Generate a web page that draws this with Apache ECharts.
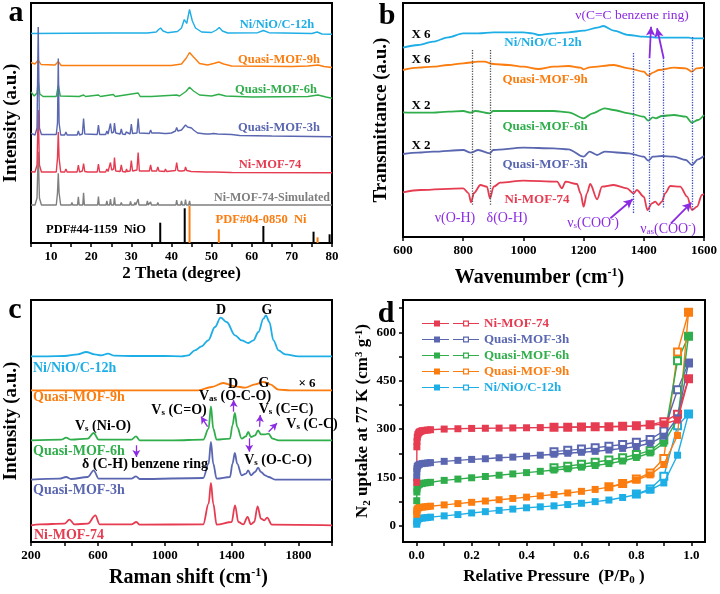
<!DOCTYPE html>
<html><head><meta charset="utf-8">
<script src="https://cdn.jsdelivr.net/npm/echarts@6/dist/echarts.min.js"></script>
<style>html,body{margin:0;padding:0;background:#fff}#c{width:720px;height:594px}</style>
</head><body><div id="c"></div>
<script>
// ---------- Panel a : XRD (2θ, relative intensity with stack offsets) ----------
const xrd_12h = [[5,209.5],[15,209.8],[25,210],[34,210],[36.2,211],[36.8,213.5],[37.3,215],[37.9,212],[39,210.3],[41.5,211.5],[42.5,215],[43.2,223.5],[43.8,219.5],[44.5,233.5],[45.2,222],[46,215],[47.5,211],[50,210.5],[51.2,213],[51.9,215.5],[52.7,212],[54,210],[61.5,210.3],[62.9,212.5],[64.3,210.3],[75,209.5],[76.3,211],[77.5,209],[80,208.7]];
const xrd_9h = [[5,180.5],[6,179],[6.8,183],[7.5,178.5],[11,178],[11.8,181.5],[12.5,177.5],[20,177.5],[40,177.5],[42.5,179],[43.7,185],[44.5,190.5],[45.5,186],[47,179.5],[49,178],[50.5,179.5],[51.8,181],[53,179],[55,177],[70,176.5],[74,177],[76.5,178],[78,176.5],[80,175.5]];
const xrd_6h = [[5,151],[5.8,147],[6.5,150],[6.8,162.5],[7.2,149],[8,146.5],[11.3,146.5],[11.8,158],[12.3,147],[17,146.5],[18.1,148],[18.6,146.5],[21.8,148],[22.3,146.5],[25.5,148.5],[26,146.5],[31.7,150],[32.2,146.5],[35,146.5],[41.3,148],[42,147],[43.6,151.5],[44.5,155.7],[45.5,152],[47,148],[50,147],[51.8,148.8],[53.5,147],[60,146],[74,146.5],[76.5,148],[78.5,146],[80,144.7]];
const xrd_3h = [[5,109.7],[6.0,108],[6.5,115],[6.8,216],[7.1,115],[7.6,108.5],[11.3,108.5],[11.6,120],[11.8,184.5],[12.0,120],[12.4,108],[13.4,108],[13.7,111],[14,108],[16.5,108],[16.8,112],[17.1,108],[17.8,109],[18.1,124.5],[18.4,109],[21.5,108.5],[21.8,118],[22.1,108.5],[23.6,108.5],[23.9,112],[24.2,109],[24.6,110],[24.8,119.5],[25.1,110],[25.6,111],[25.8,120],[26.1,110],[27.2,109],[27.5,114],[27.8,109],[28.5,108.5],[28.7,111],[28.9,109],[29.7,109],[30.0,119],[30.3,109.5],[31.4,110],[31.7,124.5],[32,110],[34.5,109.5],[34.8,113],[35.1,110],[36.3,110],[36.6,112],[36.9,110],[38.3,109.5],[38.5,110.5],[38.8,109.5],[40,110],[41.0,112],[41.3,115.5],[41.6,112],[42.5,113],[43.5,118],[44.0,116],[44.3,117.5],[45.0,115],[45.5,113],[46.5,110],[48.5,109],[48.8,110.5],[49.5,109],[50.5,109.5],[50.8,111],[51.5,109],[55,108.5],[57,107.5],[65,107],[80,106.3]];
const xrd_mof74 = [[5,71.3],[6.0,71],[6.5,78],[6.8,133],[7.1,78],[7.6,71],[11.3,71],[11.6,85],[11.8,111],[12.0,85],[12.4,71],[13.4,71],[13.7,74],[14,71],[16.5,71],[16.8,78],[17.1,71],[17.8,72],[18.1,79.5],[18.4,71.5],[19.1,71],[19.3,73],[19.5,71],[21.5,71],[21.8,79],[22.1,71],[23.6,71],[23.9,74],[24.2,71.5],[24.6,73],[24.8,80.5],[25.1,73],[25.6,74],[25.8,85.5],[26.1,72],[27.2,71.5],[27.5,78],[27.8,71.5],[28.6,71],[28.8,74],[29,71.5],[29.7,72],[30,82.5],[30.3,72],[31.4,73],[31.7,90.5],[32,72],[34.5,72],[34.8,78],[35.1,72],[36.3,72],[36.6,76],[36.9,72],[38.3,71.5],[38.5,74],[38.8,71.5],[41,72.5],[41.3,80.5],[41.6,72.5],[42.1,72],[42.3,74],[42.6,72],[43.3,72.5],[43.5,76],[43.8,72.5],[44.4,72],[44.6,74],[44.9,71.5],[48.6,71],[48.8,72.5],[49,71],[50.6,71],[50.8,72.5],[51,71],[55,70.5],[80,70.3]];
const xrd_sim = [[5,38],[6.0,38],[6.5,45],[6.8,91.3],[7.1,45],[7.6,38],[11.3,38],[11.6,50],[11.8,69.7],[12,50],[12.4,38],[15,38],[15.2,40.5],[15.4,38],[16.6,38],[16.8,46.3],[17,38],[17.9,38],[18.1,50.3],[18.3,38],[21.6,38],[21.8,46.5],[22,38],[23.7,38],[23.9,42],[24.1,38],[24.6,38],[24.8,44],[25,38],[25.6,38],[25.8,45.7],[26,38],[27.3,38],[27.5,40.5],[27.7,38],[29.6,38],[29.8,41.5],[30,38],[30.7,38],[30.9,40.5],[31.1,38],[31.5,38],[31.7,44],[31.9,38],[33.8,38],[34,42],[34.2,38],[34.6,38],[34.8,41],[35,38],[36.4,38],[36.6,40.5],[36.8,38],[38.3,38],[38.5,40],[38.7,38],[41.1,38],[41.3,43],[41.5,38],[42.3,38],[42.5,42],[42.7,38],[43.3,38],[43.5,43.5],[43.7,38],[44.3,38],[44.5,42],[44.7,38],[47.3,38],[47.5,40],[47.7,38],[48.8,38],[49,40],[49.2,38],[80,38]];
const nio_pos = [37.2,43.3,62.9,75.4,79.4];
const nio_int = [20.3,34.7,17,11.3,8.7];
const ni_pos = [44.5,51.8,76.4];
const ni_int = [37.3,13.7,5.7];

// ---------- Panel b : FTIR (wavenumber, offset transmittance) ----------
const ftir_12h = [[600,189.3],[650,192],[700,195.3],[750,199.7],[800,203.7],[850,203.7],[900,204.7],[950,204.7],[1000,204.7],[1030,203.7],[1050,202],[1100,203.7],[1150,204.7],[1200,206.3],[1250,209.7],[1265,211],[1300,206.3],[1350,202],[1400,200.3],[1450,199.3],[1500,199.3],[1550,199.3],[1560,198.7],[1600,198.7]];
const ftir_9h = [[600,167],[650,169.3],[700,170.3],[750,172],[800,173.7],[850,175.3],[870,175.3],[900,173],[950,172],[1000,170.3],[1050,168],[1100,170.3],[1150,171],[1190,169.3],[1200,167.7],[1220,169.7],[1300,172],[1350,168.7],[1400,165.3],[1415,161.3],[1430,164.3],[1450,167],[1500,169.3],[1540,168.7],[1560,165.3],[1575,168.7],[1600,169.7]];
const ftir_6h = [[600,124.7],[650,124.3],[700,124.3],[750,125.3],[800,126],[825,124.3],[840,126],[888,123.7],[900,126],[1000,126],[1100,126],[1150,124.7],[1200,118.7],[1230,123.7],[1270,128.7],[1300,127],[1350,123.7],[1400,120.3],[1415,116.3],[1430,119.7],[1440,118.7],[1460,121],[1500,122],[1540,120.3],[1560,114.3],[1580,117],[1600,122]];
const ftir_3h = [[600,83],[650,84.3],[700,85.3],[800,87],[825,84.3],[850,87],[888,83.7],[900,87],[1000,89.3],[1100,88.7],[1150,87.7],[1200,80.3],[1220,85.3],[1245,82],[1270,85.3],[1350,83.7],[1400,80.3],[1415,76.3],[1430,80.3],[1460,81],[1500,80.3],[1540,77],[1560,72],[1580,77.7],[1600,81]];
const ftir_mof74 = [[600,44.7],[657,47],[800,48.7],[818,43.7],[826,34.7],[836,44],[857,52],[879,50.3],[889,38.7],[901,50.3],[923,54.3],[1000,56.3],[1112,55.3],[1128,48.7],[1140,55.3],[1178,53],[1190,43.7],[1200,30.3],[1211,43.7],[1222,53],[1245,37.7],[1261,50.3],[1300,52],[1344,48.7],[1366,43.7],[1377,47],[1400,40.3],[1412,27],[1427,33.7],[1438,35.3],[1449,32],[1460,35.3],[1471,43.7],[1488,51],[1521,50.3],[1544,40.3],[1560,27],[1577,30.3],[1593,42],[1600,43]];

// ---------- Panel c : Raman (shift, offset intensity) ----------
const raman_12h = [[200,185.7],[300,185.7],[400,186],[480,187.7],[530,190],[580,187.7],[620,186.7],[660,188.3],[700,186.3],[800,186],[1000,186],[1100,185.7],[1140,186.7],[1180,191.7],[1220,195.7],[1260,201.7],[1300,215],[1334,224.3],[1370,220],[1420,206.7],[1460,201.7],[1500,199],[1530,201.7],[1560,210],[1590,223.3],[1605,226.7],[1625,220],[1650,201.7],[1680,191.7],[1720,187.7],[1800,185.7],[2000,185.7]];
const raman_9h = [[200,151.7],[1200,151.7],[1280,155],[1350,159],[1420,155.7],[1480,154.3],[1540,157.7],[1590,160],[1630,157.7],[1680,152.3],[1750,151.7],[2000,151.7]];
const raman_6h = [[200,101.7],[380,102.3],[410,104.3],[440,102.3],[540,103.3],[575,109],[605,102.3],[800,102.3],[828,105.7],[850,101.7],[1050,101.7],[1230,102.3],[1262,113.3],[1276,135.7],[1290,113.3],[1310,102.3],[1390,103.3],[1405,116.7],[1419,129],[1433,115],[1460,103.3],[1485,105.7],[1499,110],[1515,105],[1540,106.7],[1558,111.7],[1575,107.7],[1600,107.7],[1620,108.3],[1645,103.3],[1680,101.7],[2000,101.7]];
const raman_3h = [[200,62.3],[370,63.3],[410,65],[440,63],[540,65],[575,71.7],[605,63.3],[800,63.3],[828,65.7],[850,63],[1230,64],[1262,78.3],[1276,100],[1290,78.3],[1310,63.3],[1390,65],[1405,78.3],[1419,89],[1433,78.3],[1460,66.7],[1485,68.3],[1499,71.7],[1515,66.7],[1540,70],[1558,74.3],[1575,70],[1600,66.7],[1620,65],[1660,62.3],[2000,62.3]];
const raman_mof74 = [[200,16.7],[250,17.7],[400,18.3],[430,22.3],[460,17.7],[540,18.3],[585,26.7],[610,17.7],[800,17.7],[830,20],[850,17.3],[1230,17.7],[1262,38.3],[1276,59],[1290,38.3],[1310,17.3],[1400,20],[1420,36.7],[1440,20],[1470,17.7],[1495,25],[1515,17.7],[1535,20],[1555,35.7],[1575,23.3],[1595,21.7],[1612,24.3],[1640,17.3],[2000,16.7]];

// ---------- Panel d : N2 isotherms (P/P0, uptake) ----------
const iso_mof74_ads = [[0,135],[0.0005,245],[0.001,262],[0.002,275],[0.004,283],[0.007,288],[0.01,291],[0.015,293],[0.02,295],[0.03,296],[0.04,297],[0.05,298],[0.1,300],[0.15,301],[0.2,302],[0.25,302.5],[0.3,303],[0.35,303.5],[0.4,304],[0.45,304.5],[0.5,305],[0.55,305.5],[0.6,306],[0.65,306.5],[0.7,307],[0.75,308],[0.8,309],[0.85,311],[0.9,316],[0.95,328],[0.99,456]];
const iso_mof74_des = [[0.99,456],[0.95,346],[0.9,323],[0.85,313],[0.8,310],[0.75,308.5],[0.7,307.5],[0.65,307],[0.6,306.5],[0.55,306],[0.5,305.5]];
const iso_3h_ads = [[0,150],[0.0005,170],[0.001,178],[0.002,184],[0.005,188],[0.01,191],[0.02,193],[0.03,194],[0.04,195],[0.05,196],[0.1,200],[0.15,203],[0.2,206],[0.25,208],[0.3,211],[0.35,213],[0.4,216],[0.45,219],[0.5,222],[0.55,225],[0.6,228],[0.65,231],[0.7,235],[0.75,240],[0.8,246],[0.85,256],[0.9,278],[0.95,335],[0.99,505]];
const iso_3h_des = [[0.99,505],[0.95,422],[0.9,294],[0.85,268],[0.8,259],[0.75,252],[0.7,247],[0.65,242],[0.6,238],[0.55,234],[0.5,230]];
const iso_6h_ads = [[0,78],[0.0005,105],[0.001,115],[0.002,121],[0.005,126],[0.01,129],[0.02,131],[0.03,133],[0.04,134],[0.05,135],[0.1,141],[0.15,145],[0.2,149],[0.25,153],[0.3,157],[0.35,161],[0.4,165],[0.45,169],[0.5,173],[0.55,177],[0.6,182],[0.65,187],[0.7,193],[0.75,201],[0.8,212],[0.85,226],[0.9,256],[0.95,331],[0.99,588]];
const iso_6h_des = [[0.99,588],[0.95,512],[0.9,266],[0.85,233],[0.8,221],[0.75,211],[0.7,204],[0.65,197],[0.6,191],[0.55,185],[0.5,180]];
const iso_9h_ads = [[0,36],[0.0005,45],[0.001,49],[0.002,52],[0.005,55],[0.01,57],[0.02,58],[0.03,59],[0.04,60],[0.05,61],[0.1,65],[0.15,69],[0.2,73],[0.25,77],[0.3,81],[0.35,85],[0.4,89],[0.45,93],[0.5,97],[0.55,102],[0.6,107],[0.65,113],[0.7,120],[0.75,129],[0.8,142],[0.85,158],[0.9,190],[0.95,280],[0.99,662]];
const iso_9h_des = [[0.99,662],[0.95,539],[0.9,209],[0.85,164],[0.8,145],[0.75,131],[0.7,121]];
const iso_12h_ads = [[0,5],[0.0005,12],[0.001,16],[0.002,19],[0.005,21],[0.01,23],[0.02,24],[0.03,25],[0.04,26],[0.05,27],[0.1,31],[0.15,35],[0.2,40],[0.25,44],[0.3,48],[0.35,52],[0.4,56],[0.45,59],[0.5,62],[0.55,66],[0.6,70],[0.65,75],[0.7,80],[0.75,88],[0.8,97],[0.85,111],[0.9,133],[0.95,219],[0.99,347]];
const iso_12h_des = [[0.99,347],[0.95,310],[0.9,154],[0.85,114],[0.8,99]];

const names = ['Ni-MOF-74','Quasi-MOF-3h','Quasi-MOF-6h','Quasi-MOF-9h','Ni/NiO/C-12h'];
const xTicksD = [0,0.1,0.2,0.3,0.4,0.5,0.6,0.7,0.8,0.9,1.0];
const xLabelsD = [0,0.2,0.4,0.6,0.8,1.0];
const yTicksD = [0,75,150,225,300,375,450,525,600,675];
const yLabelsD = [0,150,300,450,600];

// ---------- styling ----------
const C = {red:'#e63c52', blue:'#5a67b0', green:'#2fae4b', orange:'#fb7d10', cyan:'#1eaee6', gray:'#7f7f7f', purple:'#8b2be2'};
const FF = '"Liberation Serif","Times New Roman",serif';

const chart = echarts.init(document.getElementById('c'), null, {renderer:'canvas'});

function axisBase(gi){
  return {gridIndex:gi, splitLine:{show:false},
    axisLine:{show:true,onZero:false,lineStyle:{color:'#000',width:2}},
    axisTick:{show:true,length:4,lineStyle:{color:'#000',width:1.5}},
    axisLabel:{color:'#000',fontFamily:FF,fontWeight:'bold',fontSize:13,margin:7},
    nameTextStyle:{color:'#000',fontFamily:FF,fontWeight:'bold'}};
}
function hiddenY(gi,max){
  const a = axisBase(gi); a.type='value'; a.min=0; a.max=max;
  a.axisTick={show:false}; a.axisLabel={show:false}; return a;
}
function line(name,data,xi,color,w,smooth){
  return {type:'line',name,data,xAxisIndex:xi,yAxisIndex:xi,symbol:'none',showSymbol:false,
    smooth:smooth||false, smoothMonotone:'x', lineStyle:{color,width:w}, itemStyle:{color}, silent:true, z:3};
}

// x axes
const xa = Object.assign(axisBase(0),{type:'value',min:5,max:80,interval:5,
  name:'2 Theta (degree)',nameLocation:'middle',nameGap:22});
xa.axisLabel.formatter = v => (v%10===0? String(v):'');
xa.nameTextStyle.fontSize = 17;
const xb = Object.assign(axisBase(1),{type:'value',min:600,max:1600,interval:200,
  name:'Wavenumber (cm{sup|-1})',nameLocation:'middle',nameGap:30});
xb.axisLabel.formatter = v => String(v);
xb.nameTextStyle.fontSize = 20; xb.nameTextStyle.padding=[0,28,0,0];
xb.nameTextStyle.rich = {sup:{fontSize:12,fontFamily:FF,fontWeight:'bold',verticalAlign:'top',padding:[0,0,10,0]}};
const xc = Object.assign(axisBase(2),{type:'value',min:200,max:2000,interval:200,
  name:'Raman shift (cm{sup|-1})',nameLocation:'middle',nameGap:25});
xc.axisLabel.formatter = v => ((v-200)%400===0? String(v):'');
xc.nameTextStyle.fontSize = 20; xc.nameTextStyle.padding=[0,0,0,14];
xc.nameTextStyle.rich = {sup:{fontSize:12,fontFamily:FF,fontWeight:'bold',verticalAlign:'top',padding:[0,0,10,0]}};
const xd = Object.assign(axisBase(3),{type:'value',min:-0.05,max:1.05,
  name:'Relative Pressure  (P/P{sub|0} )',nameLocation:'middle',nameGap:25});
xd.axisLabel.customValues = xLabelsD; xd.axisLabel.formatter = v => v.toFixed(1);
xd.axisTick.customValues = xTicksD;
xd.nameTextStyle.fontSize = 17;
xd.nameTextStyle.rich = {sub:{fontSize:11,fontFamily:FF,fontWeight:'bold',verticalAlign:'bottom',padding:[8,0,0,0]}};

// y axes
const ya = Object.assign(hiddenY(0,240),{name:'Intensity (a.u.)',nameLocation:'middle',nameGap:10,
  nameTextStyle:{color:'#000',fontFamily:FF,fontWeight:'bold',fontSize:19}});
const yb = Object.assign(hiddenY(1,234),{name:'Transmittance (a.u.)',nameLocation:'middle',nameGap:12,
  nameTextStyle:{color:'#000',fontFamily:FF,fontWeight:'bold',fontSize:19}});
const yc = Object.assign(hiddenY(2,242),{name:'Intensity (a.u.)',nameLocation:'middle',nameGap:10,
  nameTextStyle:{color:'#000',fontFamily:FF,fontWeight:'bold',fontSize:19}});
const yd = Object.assign(axisBase(3),{type:'value',min:-50,max:700,
  name:'N{sub|2} uptake at 77 K (cm{sup|3} g{sup|-1})',nameLocation:'middle',nameGap:27});
yd.axisLabel.customValues = yLabelsD; yd.axisTick.customValues = yTicksD;
yd.nameTextStyle.fontSize = 17;
yd.nameTextStyle.rich = {sub:{fontSize:11,fontFamily:FF,fontWeight:'bold',verticalAlign:'bottom',padding:[8,0,0,0]},
  sup:{fontSize:11,fontFamily:FF,fontWeight:'bold',verticalAlign:'top',padding:[0,0,8,0]}};

const series = [];
// panel a
series.push(line('a-12h',xrd_12h,0,C.cyan,1.4));
series.push(line('a-9h',xrd_9h,0,C.orange,1.4));
series.push(line('a-6h',xrd_6h,0,C.green,1.4));
series.push(line('a-sim',xrd_sim,0,C.gray,1.4));
series.push(line('a-74',xrd_mof74,0,C.red,1.4));
series.push(line('a-3h',xrd_3h,0,C.blue,1.4));
series.push({type:'bar',name:'NiO ref',xAxisIndex:0,yAxisIndex:0,barWidth:2,barGap:'-100%',silent:true,
  data:nio_pos.map((p,i)=>[p,nio_int[i]]),itemStyle:{color:'#000'}});
series.push({type:'bar',name:'Ni ref',xAxisIndex:0,yAxisIndex:0,barWidth:2,barGap:'-100%',silent:true,
  data:ni_pos.map((p,i)=>[p,ni_int[i]]),itemStyle:{color:C.orange}});

// panel b
const guide = (x,y1,y2,color)=>[{coord:[x,y1],lineStyle:{color,type:'dotted',width:1.3}},{coord:[x,y2]}];
const arrow = (x1,y1,x2,y2)=>[{coord:[x1,y1]},{coord:[x2,y2]}];
series.push(line('b-12h',ftir_12h,1,C.cyan,1.8,0.3));
series.push(line('b-9h',ftir_9h,1,C.orange,1.8,0.3));
series.push(line('b-6h',ftir_6h,1,C.green,1.8,0.3));
series.push(line('b-3h',ftir_3h,1,C.blue,1.8,0.3));
const bRed = line('b-74',ftir_mof74,1,C.red,1.8,0.3);
bRed.markLine = {silent:true,animation:false,symbol:['none','none'],label:{show:false},
  data:[guide(829,187,32,'#555'),guide(890,187,32,'#555'),guide(1364,184,24,'#3a4fc0'),
        guide(1419,177,24,'#3a4fc0'),guide(1464,179,29,'#3a4fc0'),guide(1560,200,27,'#3a4fc0')]};
series.push(bRed);
series.push({type:'line',xAxisIndex:1,yAxisIndex:1,data:[],silent:true,
  markLine:{silent:true,animation:false,symbol:['none','arrow'],symbolSize:[7,9],label:{show:false},
    lineStyle:{color:C.purple,type:'solid',width:1.8},
    data:[arrow(1289,18.7,1363,37.7),arrow(1490,13.7,1558,34.3),arrow(1419,178.7,1424,210.3),arrow(1466,178.7,1444,208.7)]}});

// panel c
series.push(line('c-12h',raman_12h,2,C.cyan,1.8,0.35));
series.push(line('c-9h',raman_9h,2,C.orange,1.8,0.35));
series.push(line('c-6h',raman_6h,2,C.green,1.8,0.35));
series.push(line('c-3h',raman_3h,2,C.blue,1.8,0.35));
series.push(line('c-74',raman_mof74,2,C.red,1.8,0.35));
series.push({type:'line',xAxisIndex:2,yAxisIndex:2,data:[],silent:true,
  markLine:{silent:true,animation:false,symbol:['none','arrow'],symbolSize:[6,7],label:{show:false},
    lineStyle:{color:C.purple,type:'solid',width:1.3},
    data:[arrow(1256,115.3,1217,125.3),arrow(1412,130.3,1412,142),arrow(1567,115.3,1571,127),
          arrow(1621,110.3,1671,118.7),arrow(1505,103.7,1505,90.3),arrow(830,96.7,830,85)]}});

// panel d
const isoAds = [iso_mof74_ads,iso_3h_ads,iso_6h_ads,iso_9h_ads,iso_12h_ads];
const isoDes = [iso_mof74_des,iso_3h_des,iso_6h_des,iso_9h_des,iso_12h_des];
const isoCol = [C.red,C.blue,C.green,C.orange,C.cyan];
for (let i=4;i>=0;i--){
  series.push({type:'line',name:names[i],data:isoDes[i],xAxisIndex:3,yAxisIndex:3,symbol:'emptyRect',symbolSize:7,
    showSymbol:true,lineStyle:{color:isoCol[i],width:1.4},itemStyle:{color:isoCol[i],borderWidth:1.3},silent:true,z:3});
  series.push({type:'line',name:names[i],data:isoAds[i],xAxisIndex:3,yAxisIndex:3,symbol:'rect',symbolSize:7,
    showSymbol:true,lineStyle:{color:isoCol[i],width:1.4},itemStyle:{color:isoCol[i]},silent:true,z:4});
}

const ICON = 'path://M0,2.4H12V3.6H0Z M12,0H18V6H12Z M18,2.4H27V3.6H18Z M31,2.4H41V3.6H31Z M41,0H47V6H41Z M42.2,1.2V4.8H45.8V1.2Z M47,2.4H57V3.6H47Z';

// ---------- text annotations ----------
function T(x,y,text,color,size,opt){
  opt = opt||{};
  const st = {text, fill:color, font:`${opt.w||'bold'} ${size}px ${FF}`, textAlign:opt.align||'center', textVerticalAlign:'middle'};
  if (opt.rich) st.rich = opt.rich;
  return {type:'text', x, y, silent:true, z:100, style:st};
}
const richFor = (size,color,w)=>({
  n:{fontSize:size,fontFamily:FF,fontWeight:w||'bold',fill:color},
  s:{fontSize:Math.round(size*0.65),fontFamily:FF,fontWeight:w||'bold',fill:color,verticalAlign:'bottom',padding:[Math.round(size*0.45),0,0,0]},
  p:{fontSize:Math.round(size*0.65),fontFamily:FF,fontWeight:w||'bold',fill:color,verticalAlign:'top',padding:[0,0,Math.round(size*0.45),0]}
});
const g = [
  T(16,13,'a','#000',30), T(387,16,'b','#000',30), T(15,310,'c','#000',30), T(386,314,'d','#000',30),
  // a
  T(277,25,'Ni/NiO/C-12h',C.cyan,12.5), T(279,60,'Quasi-MOF-9h',C.orange,12.5), T(276,90,'Quasi-MOF-6h',C.green,12.5),
  T(279,128,'Quasi-MOF-3h',C.blue,12.5), T(270,165,'Ni-MOF-74',C.red,12.5), T(272,198,'Ni-MOF-74-Simulated',C.gray,12),
  T(96,230,'PDF#44-1159  NiO','#000',12.5), T(261,220,'PDF#04-0850  Ni',C.orange,12.5),
  // b
  T(421,35,'X 6','#000',13), T(421,60,'X 6','#000',13), T(421,106,'X 2','#000',13), T(421,146,'X 2','#000',13),
  T(543,43,'Ni/NiO/C-12h',C.cyan,13), T(545,80,'Quasi-MOF-9h',C.orange,13), T(545,127,'Quasi-MOF-6h',C.green,13),
  T(545,165,'Quasi-MOF-3h',C.blue,13), T(537,200,'Ni-MOF-74',C.red,13),
  T(455,218,'ν(O-H)',C.purple,14,{w:'normal'}), T(507,218,'δ(O-H)',C.purple,14,{w:'normal'}),
  T(593,223,'{n|ν}{s|s}{n|(COO}{p|-}{n|)}',C.purple,14,{rich:richFor(14,C.purple,'normal')}),
  T(668,229,'{n|ν}{s|as}{n|(COO}{p|-}{n|)}',C.purple,14,{rich:richFor(14,C.purple,'normal')}),
  T(632,15,'ν(C=C benzene ring)',C.purple,13.5,{w:'normal'}),
  // c
  T(221,310,'D','#000',14), T(267,310,'G','#000',14), T(233,384,'D','#000',14), T(264,383,'G','#000',14),
  T(307,384,'× 6','#000',13),
  T(33,368,'Ni/NiO/C-12h',C.cyan,14,{align:'left'}), T(33,397,'Quasi-MOF-9h',C.orange,14,{align:'left'}),
  T(33,451,'Quasi-MOF-6h',C.green,14,{align:'left'}), T(33,490,'Quasi-MOF-3h',C.blue,14,{align:'left'}),
  T(34,535,'Ni-MOF-74',C.red,14,{align:'left'}),
  T(179,410,'{n|V}{s|s}{n| (C=O)}','#000',14,{rich:richFor(14,'#000')}),
  T(235,396,'{n|V}{s|as}{n| (O-C-O)}','#000',14,{rich:richFor(14,'#000')}),
  T(286,409,'{n|V}{s|s}{n| (C=C)}','#000',14,{rich:richFor(14,'#000')}),
  T(312,424,'{n|V}{s|s}{n| (C-C)}','#000',14,{rich:richFor(14,'#000')}),
  T(103,426,'{n|V}{s|s}{n| (Ni-O)}','#000',14,{rich:richFor(14,'#000')}),
  T(145,464,'δ (C-H) benzene ring','#000',14),
  T(278,460,'{n|V}{s|s}{n| (O-C-O)}','#000',14,{rich:richFor(14,'#000')})
];

const option = {
  backgroundColor:'#fff', animation:false,
  grid:[
    {left:31,top:3,width:301,height:240,show:true,borderColor:'#000',borderWidth:2},
    {left:403,top:3,width:301,height:234,show:true,borderColor:'#000',borderWidth:2},
    {left:31,top:300,width:301,height:242,show:true,borderColor:'#000',borderWidth:2},
    {left:403,top:300,width:302,height:242,show:true,borderColor:'#000',borderWidth:2}
  ],
  xAxis:[xa,xb,xc,xd], yAxis:[ya,yb,yc,yd],
  legend:{left:422,top:317,orient:'vertical',padding:0,itemGap:3,itemWidth:57,itemHeight:6,icon:ICON,
    selectedMode:false,
    textStyle:{fontFamily:FF,fontWeight:'bold',fontSize:13,lineHeight:13},
    data:names.map((n,i)=>({name:n,textStyle:{color:isoCol[i]},itemStyle:{color:isoCol[i],borderWidth:0}}))},
  series, graphic:g
};
chart.setOption(option);
</script></body></html>
